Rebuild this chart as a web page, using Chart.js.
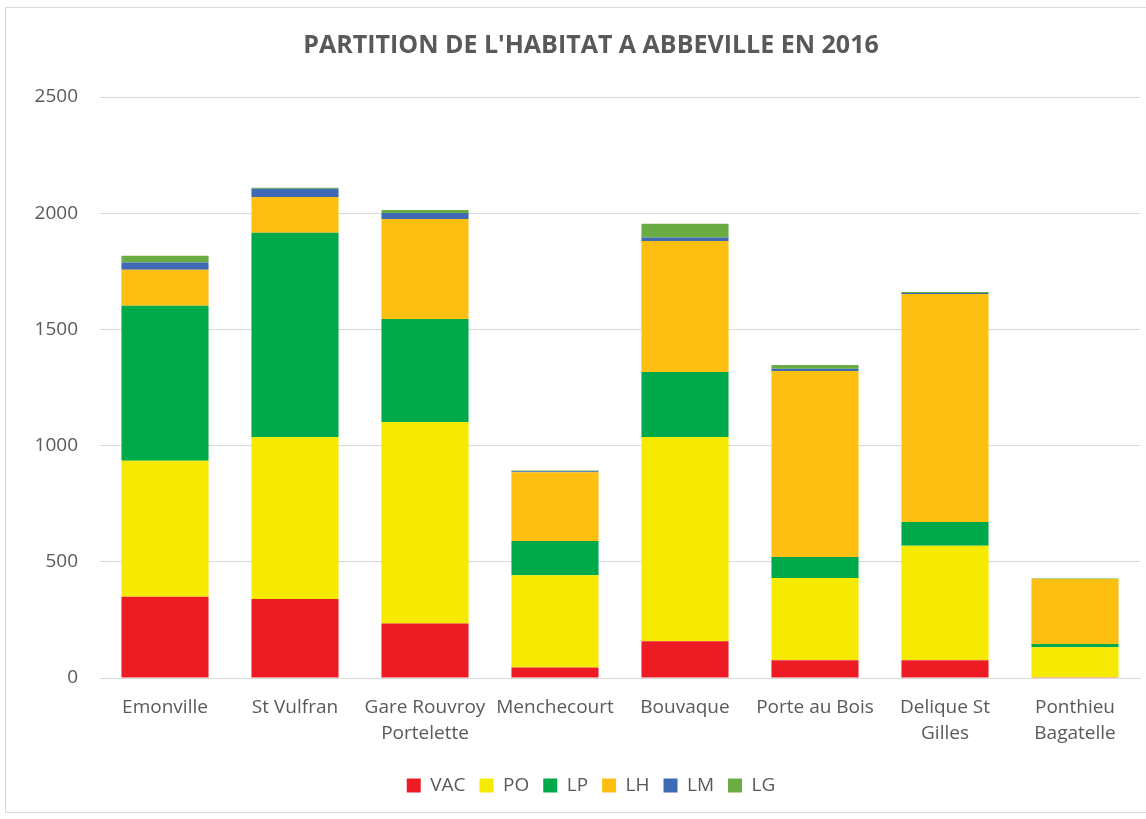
<!DOCTYPE html>
<html>
<head>
<meta charset="utf-8">
<script src="https://cdn.jsdelivr.net/npm/chart.js@4/dist/chart.umd.min.js"></script>
<style>
  body { margin: 0; background: #fff; }
  #wrap { position: relative; width: 1146px; height: 819px; overflow: hidden; }
  #frame { position: absolute; left: 5px; top: 7px; width: 1160px; height: 806px; border: 1px solid #d9d9d9; box-sizing: border-box; }
  #chart { position: absolute; left: 0; top: 0; }
</style>
</head>
<body>
<div id="wrap">
  <div id="frame"></div>
  <canvas id="chart" width="1146" height="819"></canvas>
</div>
<script>
const quartiers = ['Emonville', 'St Vulfran', ['Gare Rouvroy', 'Portelette'], 'Menchecourt',
  'Bouvaque', 'Porte au Bois', ['Delique St', 'Gilles'], ['Ponthieu', 'Bagatelle']];

// logements par quartier
const habitat = {
  VAC: [350, 340, 234, 45, 158, 76, 76, 3],
  PO:  [585, 697, 868, 397, 879, 354, 493, 129],
  LP:  [667, 879, 443, 148, 280, 91, 102, 14],
  LH:  [155, 154, 430, 295, 563, 800, 981, 280],
  LM:  [31, 35, 26, 5, 15, 10, 5, 0],
  LG:  [29, 5, 13, 3, 60, 16, 4, 2]
};
const colors = {
  VAC: '#ed1c24', PO: '#f5ea00', LP: '#00aa4b',
  LH: '#fcbf12', LM: '#3e69b3', LG: '#6aab43'
};

const grey = '#595959';
const font = 'Open Sans';

// y labels sit partly in the left padding, so widen the label clip area
const unclipY = {
  id: 'unclipY',
  afterLayout(chart) { chart.scales.y.left = 0; }
};

const ctx = document.getElementById('chart').getContext('2d');
new Chart(ctx, {
  type: 'bar',
  data: {
    labels: quartiers,
    datasets: Object.keys(habitat).map(k => ({
      label: k,
      data: habitat[k],
      backgroundColor: colors[k],
      borderWidth: 0,
      categoryPercentage: 1,
      barPercentage: 0.67
    }))
  },
  options: {
    responsive: false,
    animation: false,
    // left padding shifts title + legend centre to match the original
    layout: { padding: { left: 42, right: 6, top: 0, bottom: 14 } },
    scales: {
      x: {
        stacked: true,
        grid: { display: false, drawTicks: false },
        border: { color: '#d9d9d9', width: 1 },
        ticks: { color: grey, font: { family: font, size: 19, lineHeight: 1.37 }, padding: 17, maxRotation: 0, autoSkip: false },
        afterFit: scale => { scale.height = 84; }
      },
      y: {
        stacked: true,
        min: 0,
        max: 2500,
        ticks: { stepSize: 500, color: grey, font: { family: font, size: 19 }, padding: 22, callback: v => v },
        grid: { color: '#d9d9d9', drawTicks: false },
        border: { display: false },
        afterFit: scale => { scale.width = 58; }
      }
    },
    plugins: {
      title: {
        display: true,
        text: "PARTITION DE L'HABITAT A ABBEVILLE EN 2016",
        color: grey,
        font: { family: font, size: 25, weight: 'bold' },
        padding: { top: 31, bottom: 36 }
      },
      legend: {
        position: 'bottom',
        labels: { color: grey, font: { family: font, size: 19 }, boxWidth: 14, boxHeight: 14, padding: 14 }
      },
      tooltip: { enabled: false }
    }
  },
  plugins: [unclipY]
});
</script>
</body>
</html>
